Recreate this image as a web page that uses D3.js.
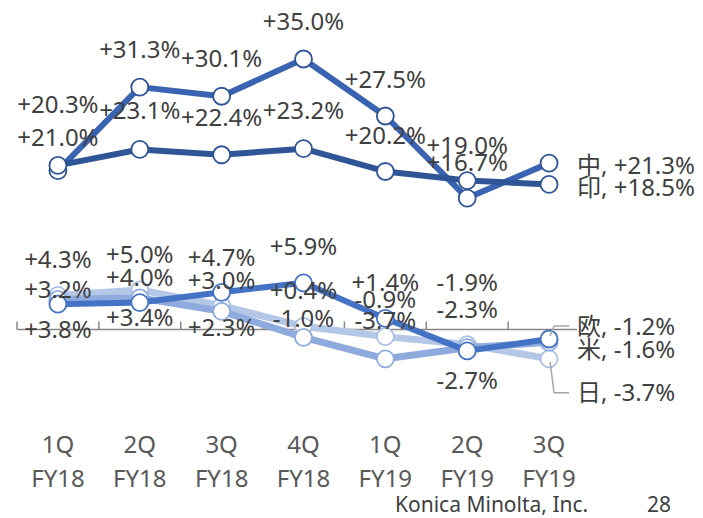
<!DOCTYPE html>
<html>
<head>
<meta charset="utf-8">
<script src="https://cdn.jsdelivr.net/npm/d3@7"></script>
<style>
  body { margin: 0; background: #fff; }
  svg { display: block; font-family: "Noto Sans", "Noto Sans CJK JP", sans-serif; }
</style>
</head>
<body>
<svg id="chart"></svg>
<script>
// categories
var quarters = ["1Q", "2Q", "3Q", "4Q", "1Q", "2Q", "3Q"];
var fiscalYears = ["FY18", "FY18", "FY18", "FY18", "FY19", "FY19", "FY19"];

// growth rates (%) - top group
var china = [20.3, 31.3, 30.1, 35.0, 27.5, 16.7, 21.3];
var india = [21.0, 23.1, 22.4, 23.2, 20.2, 19.0, 18.5];

// growth rates (%) - bottom group
var europe = [3.2, 3.4, 4.7, 5.9, 1.4, -2.7, -1.2];
var usa = [3.8, 4.0, 2.3, -1.0, -3.7, -2.3, -1.6];
var japan = [4.3, 5.0, 3.0, 0.4, -0.9, -1.9, -3.7];

var seriesNames = { china: "中", india: "印", europe: "欧", usa: "米", japan: "日" };

var width = 703, height = 518;

var svg = d3.select("#chart")
  .attr("width", width)
  .attr("height", height);

var keys = quarters.map(function (q, i) { return q + " " + fiscalYears[i]; });

var x = d3.scaleBand()
  .domain(keys)
  .range([17, 590]);

// two separate y scales, the chart stacks two panels
var yTop = d3.scaleLinear().domain([0, 40]).range([325, 21]);
var yBottom = d3.scaleLinear().domain([-6, 6]).range([377, 282]);

function fmt(v) {
  return (v >= 0 ? "+" : "") + v.toFixed(1) + "%";
}

// label nudges (dy from the point), hand placed like in the original slide
var labelDy = {
  china: [-66, -38, -38, -38, -37, -36],
  india: [-28, -39, -37, -38, -36, -35],
  europe: [-15, 15, -35, -36, -36, 29],
  usa: [30, -20, 16, -19, -38, -38],
  japan: [-36, -36, -25, -36, -37, -62]
};
var endDy = { china: 2, india: 3, europe: -13, usa: 7, japan: 34 };

var textColor = "#404040";
var fontSize = 24;

// axis line of bottom panel
var y0 = yBottom(0);
var axis = svg.append("g").attr("class", "axis");
axis.append("line")
  .attr("x1", x.range()[0]).attr("x2", 577)
  .attr("y1", y0).attr("y2", y0)
  .attr("stroke", "#868686").attr("stroke-width", 1.5);
axis.selectAll(".tick")
  .data(keys)
  .enter()
  .append("line")
  .attr("x1", function (d) { return x(d); })
  .attr("x2", function (d) { return x(d); })
  .attr("y1", y0 - 8).attr("y2", y0)
  .attr("stroke", "#868686").attr("stroke-width", 1.5);

// category labels
var cat = svg.append("g").attr("class", "categories")
  .attr("fill", "#595959")
  .attr("font-size", fontSize)
  .attr("text-anchor", "middle");
cat.selectAll(".q")
  .data(keys)
  .enter()
  .append("text")
  .attr("x", function (d) { return x(d) + x.bandwidth() / 2; })
  .attr("y", 453)
  .text(function (d, i) { return quarters[i]; });
cat.selectAll(".fy")
  .data(keys)
  .enter()
  .append("text")
  .attr("x", function (d) { return x(d) + x.bandwidth() / 2; })
  .attr("y", 487)
  .text(function (d, i) { return fiscalYears[i]; });

function cx(i) { return x(keys[i]) + x.bandwidth() / 2; }

function drawSeries(key, values, y, color, lineWidth, markerStroke) {
  var g = svg.append("g").attr("class", "series-" + key);
  var line = d3.line()
    .x(function (d, i) { return cx(i); })
    .y(function (d) { return y(d); });

  g.append("path")
    .datum(values)
    .attr("d", line)
    .attr("fill", "none")
    .attr("stroke", color)
    .attr("stroke-width", lineWidth)
    .attr("stroke-linejoin", "round");

  g.selectAll("circle")
    .data(values)
    .enter()
    .append("circle")
    .attr("cx", function (d, i) { return cx(i); })
    .attr("cy", function (d) { return y(d); })
    .attr("r", 8.5)
    .attr("fill", "#fff")
    .attr("stroke", markerStroke)
    .attr("stroke-width", 1.8);
}

function drawLabels(key, values, y) {
  var g = svg.append("g").attr("class", "labels-" + key)
    .attr("fill", textColor)
    .attr("font-size", fontSize);

  // point labels except the last one
  g.selectAll("text.val")
    .data(values.slice(0, -1))
    .enter()
    .append("text")
    .attr("class", "val")
    .attr("text-anchor", "middle")
    .attr("x", function (d, i) { return cx(i); })
    .attr("y", function (d, i) { return y(d) + labelDy[key][i]; })
    .attr("dy", "0.36em")
    .text(fmt);

  // series name + last value at the right end
  var last = values[values.length - 1];
  g.append("text")
    .attr("x", 577)
    .attr("y", y(last) + endDy[key])
    .attr("dy", "0.36em")
    .text(seriesNames[key] + ", " + fmt(last));
}

// bottom group (lightest behind)
drawSeries("japan", japan, yBottom, "#b4c7e7", 7, "#a9bfe4");
drawSeries("usa", usa, yBottom, "#8faadc", 7, "#8faadc");
drawSeries("europe", europe, yBottom, "#4472c4", 6, "#4472c4");

// top group
drawSeries("china", china, yTop, "#3a63b2", 6, "#2f5597");
drawSeries("india", india, yTop, "#2f5597", 6, "#2f5597");

// leader lines for the end labels that sit away from their point
function leader(values, key) {
  var i = values.length - 1;
  var px = cx(i), py = yBottom(values[i]);
  var ly = py + endDy[key];
  var sy = ly < py ? py - 3 : py + 3;
  svg.append("polyline")
    .attr("points", [[px + 1, sy], [px + 5, ly], [569, ly]].join(" "))
    .attr("fill", "none")
    .attr("stroke", "#a6a6a6")
    .attr("stroke-width", 1.5);
}
leader(europe, "europe");
leader(japan, "japan");

drawLabels("china", china, yTop);
drawLabels("india", india, yTop);
drawLabels("japan", japan, yBottom);
drawLabels("usa", usa, yBottom);
drawLabels("europe", europe, yBottom);

// footer
svg.append("text")
  .attr("x", 395).attr("y", 512)
  .attr("font-size", 21)
  .attr("fill", textColor)
  .text("Konica Minolta, Inc.");
svg.append("text")
  .attr("x", 647).attr("y", 512)
  .attr("font-size", 21)
  .attr("fill", textColor)
  .text("28");
</script>
</body>
</html>
